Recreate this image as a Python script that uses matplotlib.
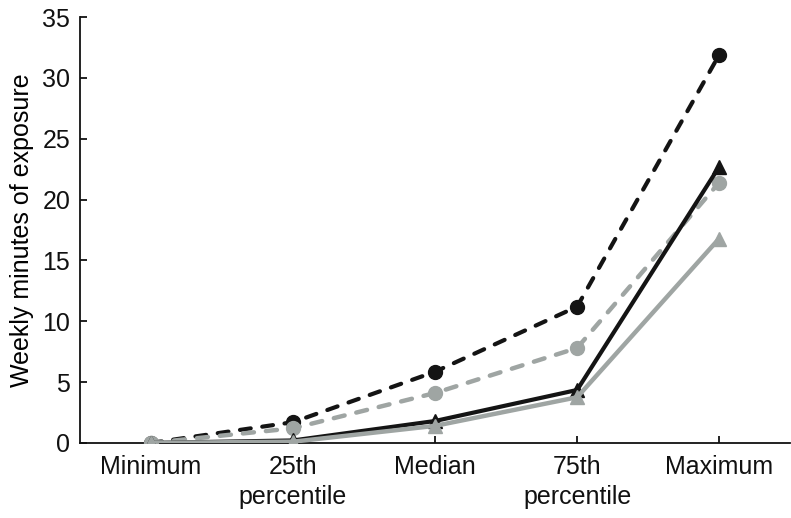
import matplotlib
matplotlib.use("Agg")
import matplotlib.pyplot as plt

categories = ["Minimum", "25th\npercentile", "Median", "75th\npercentile", "Maximum"]
black_dashed_circle = [0.0, 1.7, 5.85, 11.2, 31.9]
gray_dashed_circle = [0.0, 1.2, 4.1, 7.8, 21.4]
black_solid_triangle = [0.0, 0.2, 1.8, 4.35, 22.7]
gray_solid_triangle = [0.0, 0.1, 1.4, 3.75, 16.8]
yticks = [0, 5, 10, 15, 20, 25, 30, 35]

plt.rcParams['font.family'] = ['Liberation Sans', 'DejaVu Sans']

BLACK = '#141414'
GRAY = '#9fa5a3'

fig = plt.figure(figsize=(7.91, 5.18), dpi=100)
ax = fig.add_axes([0.101, 0.145, 0.898, 0.822])
x = list(range(len(categories)))

ax.plot(x, black_dashed_circle, color=BLACK, lw=3.0, ls=(0, (2.6, 2.8)),
        marker='o', ms=10, dash_capstyle='round', zorder=3)
ax.plot(x, gray_dashed_circle, color=GRAY, lw=3.2, ls=(0, (2.5, 2.7)),
        marker='o', ms=10, dash_capstyle='round', zorder=3)
ax.plot(x, black_solid_triangle, color=BLACK, lw=3.0, ls='-',
        marker='^', ms=10.5, zorder=4)
ax.plot(x, gray_solid_triangle, color=GRAY, lw=3.2, ls='-',
        marker='^', ms=10.5, zorder=5)

ax.set_xlim(-0.5, 4.5)
ax.set_ylim(0, 35)
ax.set_xticks(x)
ax.set_xticklabels(categories, fontsize=18, linespacing=1.3)
ax.set_yticks(yticks)
ax.set_yticklabels([str(v) for v in yticks], fontsize=18)
ax.set_ylabel("Weekly minutes of exposure", fontsize=18, labelpad=6)

for s in ['top', 'right']:
    ax.spines[s].set_visible(False)
for s in ['left', 'bottom']:
    ax.spines[s].set_linewidth(1.3)
    ax.spines[s].set_color('#111111')
ax.tick_params(axis='both', direction='in', length=5, width=1.3, pad=7, colors='#111111')
ax.tick_params(axis='x', pad=9)

fig.savefig("out.png", dpi=100)
